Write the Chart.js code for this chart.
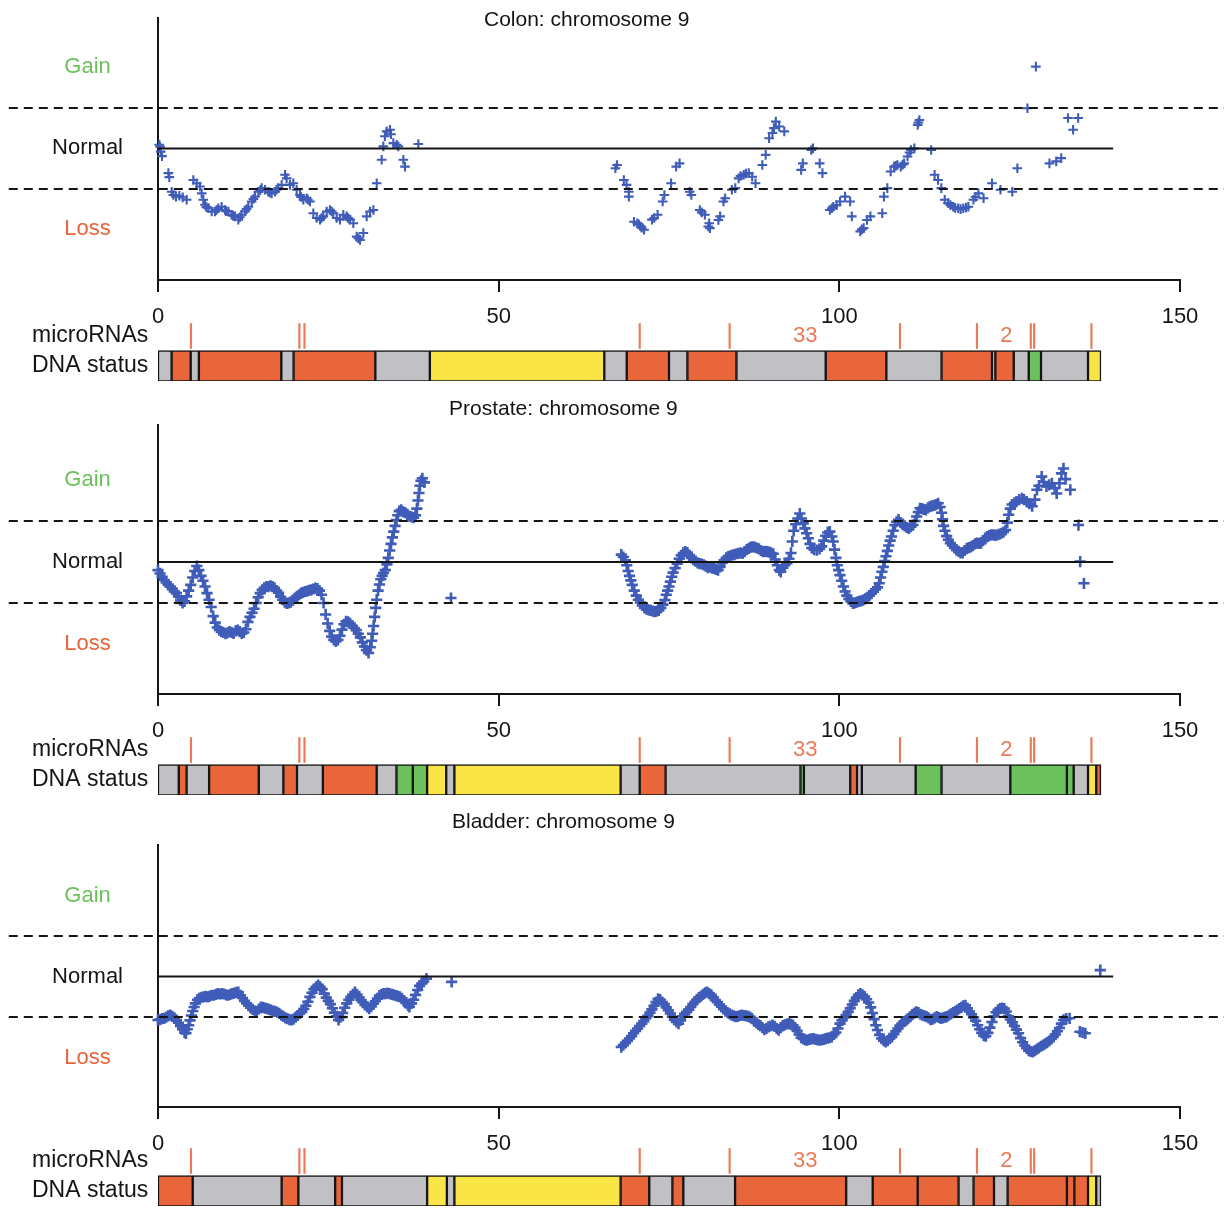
<!DOCTYPE html>
<html>
<head>
<meta charset="utf-8">
<script src="https://cdn.jsdelivr.net/npm/chart.js@4.4.1/dist/chart.umd.min.js"></script>
<style>
  html, body { margin: 0; padding: 0; background: #fff; }
  body { position: relative; width: 1224px; height: 1208px; overflow: hidden; font-family: "Liberation Sans", Arial, Helvetica, sans-serif; }
  .box { position: absolute; left: 0; width: 1224px; }
  .box canvas { display: block; }
  .ttl { position: absolute; font-size: 21px; line-height: 24px; color: #141414; white-space: nowrap; }
</style>
</head>
<body>
<div id="root"></div>
<div class="ttl" style="left:484px; top:7px;">Colon: chromosome 9</div>
<div class="ttl" style="left:449px; top:396px;">Prostate: chromosome 9</div>
<div class="ttl" style="left:452px; top:809px;">Bladder: chromosome 9</div>
<script>
// ---------------- DATA ----------------
const xTickStep = 50;
const xMin = 0, xMax = 150;
const yTickVals = [-2, 0, 2];
const yTickText = ['Loss', 'Normal', 'Gain'];
const rowLabels = ['microRNAs', 'DNA status'];
const gainThreshold = 1, lossThreshold = -1, normalLevel = 0;
const thresholdSpan = [-21.9, 156.5];
const normalSpan = [0, 140.2];

const miRNAPos = [4.84, 20.75, 21.5, 70.7, 83.9, 108.9, 120.2, 128.1, 128.6, 137.0];
const miRNALabelPos = [95.0, 124.5];
const miRNALabelText = ['33', '2'];

// DNA status segments: boundaries and status (N normal, L loss, G gain, U other)
const colonBounds = [0,2.0,4.8,6.0,18.1,19.9,31.9,39.9,65.5,68.8,75.0,77.7,84.9,98.0,106.9,115.0,122.4,122.9,125.6,127.8,129.6,136.5,138.4];
const colonStatus = ['N','L','N','L','N','L','N','U','N','L','N','L','N','L','N','L','N','L','N','G','N','U'];
const prostateBounds = [0,3.05,4.2,7.5,14.8,18.4,20.4,24.2,32.1,35.0,37.4,39.5,42.3,43.5,67.9,70.7,74.5,94.3,94.8,101.6,102.6,103.3,111.2,115.0,125.1,133.4,134.4,136.5,137.7,138.4];
const prostateStatus = ['N','L','N','L','N','L','N','L','N','G','G','U','N','U','N','L','N','G','N','L','N','N','G','N','G','G','N','U','L'];
const bladderBounds = [0,5.1,18.15,20.6,26.0,27.0,39.5,42.4,43.5,67.9,72.1,75.5,77.1,84.7,101.0,104.9,111.5,117.5,119.7,122.7,124.7,133.4,134.5,136.5,137.7,138.4];
const bladderStatus = ['L','N','L','N','L','N','U','N','U','L','N','L','N','L','N','L','L','N','L','N','L','L','L','U','N'];

// copy-number points [position (Mb), level]
const colonPoints = [
[0.20,0.09],[0.30,0.04],[0.39,-0.08],[0.59,-0.19],[1.52,-0.61],[1.66,-0.71],[2.01,-1.07],[2.25,-1.15],[2.64,-1.19],[3.13,-1.17],[3.62,-1.21],[4.21,-1.27],
[5.19,-0.78],[5.68,-0.86],[6.16,-0.94],[6.41,-1.11],[6.65,-1.27],[6.90,-1.39],[7.10,-1.45],[7.39,-1.48],[7.88,-1.56],[8.37,-1.56],[8.60,-1.52],[8.86,-1.48],[9.34,-1.44],[9.83,-1.52],[10.00,-1.55],[10.32,-1.56],[10.81,-1.64],[11.00,-1.66],[11.30,-1.68],[11.79,-1.76],[12.00,-1.70],[12.28,-1.64],[12.77,-1.56],[13.00,-1.50],[13.26,-1.44],[13.75,-1.31],[14.00,-1.25],[14.24,-1.19],[14.73,-1.07],[15.00,-1.03],[15.22,-0.98],[15.71,-1.02],[16.19,-1.07],[16.40,-1.09],[16.68,-1.11],[17.17,-1.07],[17.40,-1.02],[17.66,-0.98],[18.15,-0.90],[18.64,-0.65],[18.88,-0.74],[19.37,-0.90],[19.86,-0.86],[20.35,-1.02],[20.84,-1.15],[21.00,-1.20],[21.33,-1.27],[21.82,-1.23],[22.00,-1.27],[22.31,-1.31],[22.80,-1.60],[23.29,-1.72],[23.78,-1.76],[24.00,-1.72],[24.27,-1.68],[24.76,-1.56],[25.24,-1.52],[25.50,-1.56],[25.73,-1.60],[26.22,-1.72],[26.71,-1.76],[27.20,-1.64],[27.69,-1.68],[27.90,-1.72],[28.18,-1.76],[28.67,-1.85],[29.16,-2.18],[29.40,-2.22],[29.65,-2.26],[30.14,-2.09],[30.63,-1.68],[31.12,-1.56],[31.61,-1.52],[32.10,-0.86],[32.83,-0.28],[33.07,0.05],[33.30,0.30],[33.56,0.42],[34.05,0.46],[34.20,0.35],[34.54,0.13],[35.03,0.09],[35.27,0.05],[36.01,-0.28],[36.25,-0.45],[38.21,0.11],
[67.13,-0.49],[67.38,-0.41],[68.37,-0.78],[68.77,-0.90],[69.11,-1.07],[69.11,-1.19],[69.86,-1.81],[70.35,-1.85],[70.60,-1.88],[70.85,-1.93],[71.00,-1.96],[71.34,-2.01],[72.50,-1.76],[72.83,-1.72],[73.33,-1.64],[74.07,-1.31],[74.32,-1.15],[75.31,-0.86],[76.05,-0.45],[76.55,-0.37],[78.04,-1.07],[78.28,-1.15],[79.52,-1.52],[79.80,-1.58],[80.27,-1.64],[80.76,-1.93],[80.90,-1.85],[81.01,-1.97],[82.25,-1.77],[82.50,-1.68],[82.99,-1.31],[83.24,-1.23],[84.23,-1.02],[84.73,-0.98],[85.22,-0.74],[85.50,-0.68],[85.97,-0.65],[86.30,-0.62],[86.71,-0.61],[87.21,-0.70],[87.70,-0.86],[88.70,-0.41],[89.19,-0.16],[89.69,0.25],[90.18,0.38],[90.40,0.50],[90.68,0.66],[91.17,0.54],[91.92,0.42],[94.40,-0.53],[94.64,-0.37],[95.88,-0.04],[96.13,0.00],[97.12,-0.37],[97.52,-0.61],
[98.61,-1.52],[98.90,-1.48],[99.11,-1.44],[99.60,-1.40],[100.10,-1.31],[100.84,-1.19],[101.58,-1.31],[101.83,-1.68],[103.07,-2.05],[103.30,-2.00],[103.57,-1.97],[104.06,-1.77],[104.56,-1.68],[106.30,-1.60],[106.54,-1.19],[107.04,-0.98],[107.53,-0.57],[108.03,-0.45],[108.30,-0.43],[108.53,-0.41],[109.02,-0.45],[109.30,-0.40],[109.52,-0.37],[110.01,-0.20],[110.30,-0.10],[110.51,-0.04],[111.01,0.00],[111.50,0.58],[111.60,0.64],[111.75,0.70],[113.48,-0.04],[113.98,-0.65],[114.48,-0.78],[114.97,-0.98],[115.47,-1.27],[115.96,-1.35],[116.30,-1.40],[116.71,-1.44],[117.00,-1.47],[117.45,-1.48],[117.80,-1.50],[118.19,-1.48],[118.60,-1.46],[118.94,-1.44],[119.68,-1.27],[120.00,-1.20],[120.42,-1.11],[121.17,-1.23],[122.41,-0.86],[123.65,-1.02],[125.38,-1.07],[126.13,-0.49],[127.61,0.99],[128.85,2.02],[130.84,-0.37],[131.83,-0.32],[132.57,-0.24],[133.56,0.75],[134.31,0.46],[135.05,0.75]
];

const prostatePoints = [
[0.0,-0.20],[0.3,-0.28],[0.6,-0.36],[0.9,-0.44],[1.2,-0.50],[1.5,-0.56],[1.8,-0.60],[2.1,-0.66],[2.4,-0.72],[2.7,-0.76],[3.0,-0.84],[3.3,-0.94],[3.6,-1.00],[3.9,-0.96],[4.2,-0.84],[4.5,-0.70],[4.8,-0.56],[5.1,-0.38],[5.4,-0.22],[5.7,-0.10],[6.0,-0.20],[6.3,-0.34],[6.6,-0.46],[6.9,-0.60],[7.2,-0.76],[7.5,-0.92],[7.8,-1.10],[8.1,-1.32],[8.4,-1.48],[8.7,-1.60],[9.0,-1.66],[9.3,-1.70],[9.6,-1.72],[9.9,-1.75],[10.2,-1.73],[10.5,-1.70],[10.8,-1.72],[11.1,-1.74],[11.4,-1.68],[11.7,-1.66],[12.0,-1.70],[12.3,-1.74],[12.6,-1.72],[12.9,-1.64],[13.2,-1.46],[13.5,-1.34],[13.8,-1.24],[14.1,-1.14],[14.4,-1.00],[14.7,-0.86],[15.0,-0.76],[15.3,-0.68],[15.6,-0.63],[15.9,-0.60],[16.2,-0.60],[16.5,-0.58],[16.8,-0.60],[17.1,-0.63],[17.4,-0.70],[17.7,-0.75],[18.0,-0.85],[18.3,-0.92],[18.6,-0.98],[18.9,-1.01],[19.2,-1.00],[19.5,-0.98],[19.8,-0.93],[20.1,-0.88],[20.4,-0.84],[20.7,-0.80],[21.0,-0.76],[21.3,-0.74],[21.6,-0.72],[21.9,-0.71],[22.2,-0.69],[22.5,-0.68],[22.8,-0.66],[23.1,-0.64],[23.4,-0.65],[23.7,-0.70],[24.0,-0.80],[24.3,-1.00],[24.6,-1.28],[24.9,-1.50],[25.2,-1.68],[25.5,-1.82],[25.8,-1.90],[26.1,-1.94],[26.4,-1.90],[26.7,-1.80],[27.0,-1.65],[27.3,-1.52],[27.6,-1.45],[27.9,-1.46],[28.2,-1.50],[28.5,-1.56],[28.8,-1.61],[29.1,-1.66],[29.4,-1.75],[29.7,-1.84],[30.0,-1.96],[30.3,-2.06],[30.6,-2.15],[30.9,-2.22],[31.15,-2.08],[31.35,-1.92],[31.5,-1.75],[31.65,-1.56],[31.8,-1.34],[31.95,-1.12],[32.1,-0.92],[32.3,-0.70],[32.5,-0.55],[32.7,-0.42],[32.9,-0.34],[33.1,-0.27],[33.35,-0.20],[33.6,-0.06],[33.8,0.10],[34.0,0.28],[34.2,0.44],[34.4,0.60],[34.6,0.74],[34.8,0.88],[35.0,1.02],[35.2,1.14],[35.4,1.24],[35.7,1.27],[36.0,1.22],[36.3,1.20],[36.6,1.16],[36.9,1.12],[37.2,1.10],[37.5,1.08],[37.8,1.14],[38.0,1.30],[38.15,1.50],[38.3,1.68],[38.45,1.86],[38.6,1.98],[38.8,2.04],[39.1,1.94],
[43.0,-0.88],
[68.0,0.18],[68.3,0.12],[68.6,0.04],[68.8,-0.08],[69.0,-0.22],[69.2,-0.34],[69.4,-0.45],[69.6,-0.56],[69.9,-0.70],[70.2,-0.82],[70.5,-0.92],[70.8,-0.99],[71.1,-1.06],[71.4,-1.12],[71.7,-1.15],[72.0,-1.17],[72.3,-1.18],[72.6,-1.20],[72.9,-1.21],[73.2,-1.20],[73.5,-1.18],[73.8,-1.12],[74.1,-1.04],[74.4,-0.93],[74.6,-0.80],[74.8,-0.70],[75.0,-0.60],[75.2,-0.48],[75.4,-0.36],[75.6,-0.26],[75.9,-0.15],[76.2,-0.04],[76.5,0.08],[76.8,0.16],[77.1,0.22],[77.4,0.25],[77.7,0.23],[78.0,0.17],[78.3,0.10],[78.6,0.05],[78.9,0.02],[79.2,-0.02],[79.5,-0.04],[79.8,-0.05],[80.1,-0.07],[80.4,-0.10],[80.7,-0.14],[81.0,-0.12],[81.3,-0.15],[81.6,-0.16],[81.9,-0.18],[82.2,-0.20],[82.5,-0.12],[82.8,-0.02],[83.1,0.04],[83.4,0.10],[83.7,0.13],[84.0,0.15],[84.3,0.17],[84.6,0.18],[84.9,0.20],[85.2,0.21],[85.5,0.22],[85.8,0.21],[86.1,0.25],[86.4,0.30],[86.7,0.33],[87.0,0.36],[87.3,0.37],[87.6,0.36],[87.9,0.34],[88.2,0.32],[88.5,0.28],[88.8,0.25],[89.1,0.26],[89.4,0.25],[89.7,0.24],[90.0,0.22],[90.3,0.20],[90.6,0.06],[90.9,-0.08],[91.2,-0.20],[91.4,-0.24],[91.7,-0.14],[92.0,-0.08],[92.3,-0.03],[92.6,0.08],[92.9,0.22],[93.1,0.50],[93.3,0.76],[93.6,0.92],[93.9,1.06],[94.2,1.18],[94.45,1.06],[94.7,0.94],[94.95,0.82],[95.2,0.70],[95.45,0.58],[95.7,0.44],[95.95,0.34],[96.3,0.30],[96.7,0.29],[97.1,0.32],[97.4,0.38],[97.7,0.52],[98.0,0.64],[98.3,0.72],[98.6,0.74],[98.9,0.62],[99.1,0.50],[99.3,0.30],[99.5,0.10],[99.7,-0.08],[99.9,-0.20],[100.1,-0.32],[100.35,-0.46],[100.6,-0.60],[100.85,-0.72],[101.1,-0.82],[101.4,-0.90],[101.7,-0.96],[102.0,-1.01],[102.3,-1.00],[102.6,-0.98],[102.9,-0.96],[103.2,-0.95],[103.5,-0.93],[103.8,-0.90],[104.1,-0.86],[104.4,-0.82],[104.7,-0.77],[105.0,-0.72],[105.3,-0.67],[105.6,-0.62],[105.85,-0.52],[106.05,-0.38],[106.25,-0.24],[106.45,-0.12],[106.65,0.02],[106.85,0.14],[107.05,0.27],[107.25,0.40],[107.45,0.52],[107.65,0.62],[107.9,0.76],[108.15,0.90],[108.4,0.98],[108.7,1.03],[109.0,0.96],[109.3,0.91],[109.6,0.88],[109.9,0.84],[110.2,0.82],[110.5,0.86],[110.8,0.90],[111.1,1.00],[111.35,1.11],[111.6,1.22],[111.85,1.31],[112.1,1.30],[112.4,1.28],[112.7,1.27],[113.0,1.32],[113.3,1.35],[113.6,1.37],[113.9,1.38],[114.2,1.40],[114.5,1.43],[114.8,1.34],[115.0,1.20],[115.15,1.04],[115.3,0.88],[115.5,0.76],[115.75,0.63],[116.0,0.54],[116.3,0.46],[116.6,0.40],[116.9,0.34],[117.2,0.29],[117.5,0.26],[117.8,0.22],[118.1,0.22],[118.4,0.28],[118.7,0.33],[119.0,0.35],[119.3,0.37],[119.6,0.40],[119.9,0.44],[120.2,0.46],[120.5,0.45],[120.8,0.46],[121.1,0.52],[121.4,0.58],[121.7,0.62],[122.0,0.64],[122.3,0.66],[122.6,0.66],[122.9,0.65],[123.2,0.66],[123.5,0.68],[123.8,0.70],[124.1,0.73],[124.4,0.78],[124.65,0.96],[124.85,1.15],[125.1,1.30],[125.35,1.40],[125.7,1.44],[126.0,1.47],[126.4,1.52],[126.8,1.55],[127.1,1.52],[127.5,1.47],[127.9,1.42],[128.3,1.36],[128.7,1.52],[129.0,1.76],[129.3,1.86],[129.7,2.08],[130.0,1.95],[130.4,1.84],[130.8,1.88],[131.2,1.92],[131.6,1.80],[131.9,1.67],[132.3,1.92],[132.6,2.16],[132.9,2.28],[133.2,2.02],[133.9,1.76],[135.1,0.90],[135.35,0.01],[135.9,-0.52]
];

const bladderPoints = [
[0.0,-1.07],[0.3,-1.06],[0.6,-1.04],[0.9,-1.03],[1.2,-1.00],[1.5,-0.97],[1.8,-0.95],[2.1,-0.98],[2.4,-1.02],[2.7,-1.07],[3.0,-1.14],[3.3,-1.22],[3.6,-1.30],[3.9,-1.38],[4.1,-1.40],[4.3,-1.30],[4.5,-1.20],[4.7,-1.08],[4.9,-0.96],[5.1,-0.85],[5.3,-0.75],[5.5,-0.66],[5.8,-0.57],[6.1,-0.53],[6.4,-0.51],[6.7,-0.50],[7.0,-0.49],[7.3,-0.50],[7.6,-0.48],[7.9,-0.46],[8.2,-0.46],[8.5,-0.44],[8.8,-0.42],[9.1,-0.43],[9.4,-0.42],[9.7,-0.43],[10.0,-0.45],[10.3,-0.46],[10.6,-0.44],[10.9,-0.42],[11.2,-0.41],[11.5,-0.39],[11.8,-0.38],[12.1,-0.46],[12.4,-0.53],[12.7,-0.60],[13.0,-0.66],[13.3,-0.72],[13.6,-0.77],[13.9,-0.81],[14.2,-0.85],[14.5,-0.87],[14.8,-0.80],[15.1,-0.75],[15.4,-0.76],[15.7,-0.78],[16.0,-0.79],[16.3,-0.81],[16.6,-0.83],[16.9,-0.85],[17.2,-0.86],[17.5,-0.88],[17.8,-0.91],[18.1,-0.95],[18.4,-0.98],[18.7,-1.02],[19.0,-1.04],[19.3,-1.06],[19.6,-1.07],[19.9,-1.05],[20.2,-1.00],[20.5,-0.96],[20.8,-0.91],[21.1,-0.87],[21.4,-0.80],[21.7,-0.72],[22.0,-0.62],[22.3,-0.50],[22.6,-0.40],[22.9,-0.31],[23.2,-0.25],[23.5,-0.21],[23.8,-0.25],[24.1,-0.31],[24.4,-0.42],[24.7,-0.52],[25.0,-0.60],[25.3,-0.68],[25.6,-0.78],[25.9,-0.89],[26.2,-0.98],[26.5,-1.07],[26.8,-1.00],[27.1,-0.90],[27.4,-0.77],[27.7,-0.66],[28.0,-0.57],[28.3,-0.50],[28.6,-0.44],[28.9,-0.38],[29.2,-0.44],[29.5,-0.51],[29.8,-0.58],[30.1,-0.64],[30.4,-0.70],[30.7,-0.75],[31.0,-0.79],[31.3,-0.74],[31.6,-0.67],[31.9,-0.61],[32.2,-0.54],[32.5,-0.47],[32.8,-0.44],[33.1,-0.42],[33.4,-0.42],[33.7,-0.41],[34.0,-0.42],[34.3,-0.44],[34.6,-0.45],[34.9,-0.47],[35.2,-0.48],[35.5,-0.50],[35.8,-0.54],[36.1,-0.59],[36.4,-0.65],[36.7,-0.71],[36.9,-0.75],[37.2,-0.66],[37.5,-0.57],[37.8,-0.45],[38.1,-0.33],[38.4,-0.23],[38.7,-0.17],[39.0,-0.12],[39.4,-0.05],
[43.1,-0.13],
[68.0,-1.74],[68.3,-1.69],[68.6,-1.64],[68.9,-1.59],[69.2,-1.53],[69.5,-1.47],[69.8,-1.40],[70.1,-1.34],[70.4,-1.28],[70.7,-1.22],[71.0,-1.16],[71.3,-1.10],[71.6,-1.03],[71.9,-0.97],[72.2,-0.89],[72.5,-0.81],[72.8,-0.72],[73.1,-0.63],[73.4,-0.55],[73.7,-0.57],[74.0,-0.63],[74.3,-0.68],[74.6,-0.76],[74.9,-0.83],[75.2,-0.91],[75.5,-0.99],[75.8,-1.07],[76.1,-1.12],[76.4,-1.16],[76.7,-1.08],[77.0,-0.98],[77.3,-0.92],[77.6,-0.87],[77.9,-0.82],[78.2,-0.75],[78.5,-0.68],[78.8,-0.62],[79.1,-0.57],[79.4,-0.52],[79.7,-0.48],[80.0,-0.44],[80.3,-0.40],[80.6,-0.38],[80.9,-0.42],[81.2,-0.45],[81.5,-0.51],[81.8,-0.58],[82.1,-0.63],[82.4,-0.69],[82.7,-0.74],[83.0,-0.80],[83.3,-0.85],[83.6,-0.89],[83.9,-0.92],[84.2,-0.95],[84.5,-0.97],[84.8,-0.99],[85.1,-0.98],[85.4,-0.96],[85.7,-0.95],[86.0,-0.96],[86.3,-0.97],[86.6,-0.98],[86.9,-1.00],[87.2,-1.04],[87.5,-1.10],[87.8,-1.14],[88.1,-1.18],[88.4,-1.21],[88.7,-1.26],[89.0,-1.31],[89.3,-1.28],[89.6,-1.24],[89.9,-1.22],[90.2,-1.20],[90.5,-1.23],[90.8,-1.28],[91.1,-1.32],[91.4,-1.26],[91.7,-1.21],[92.0,-1.19],[92.3,-1.17],[92.6,-1.16],[92.9,-1.18],[93.2,-1.20],[93.5,-1.26],[93.8,-1.34],[94.1,-1.43],[94.4,-1.51],[94.7,-1.54],[95.0,-1.56],[95.3,-1.57],[95.6,-1.55],[95.9,-1.54],[96.2,-1.53],[96.5,-1.55],[96.8,-1.56],[97.1,-1.57],[97.4,-1.56],[97.7,-1.55],[98.0,-1.53],[98.3,-1.52],[98.6,-1.51],[98.9,-1.49],[99.2,-1.43],[99.5,-1.38],[99.8,-1.28],[100.1,-1.16],[100.4,-1.08],[100.7,-1.01],[101.0,-0.95],[101.3,-0.87],[101.6,-0.78],[101.9,-0.69],[102.2,-0.60],[102.5,-0.52],[102.8,-0.45],[103.1,-0.42],[103.4,-0.45],[103.7,-0.49],[104.0,-0.56],[104.3,-0.64],[104.6,-0.76],[104.85,-0.90],[105.1,-1.05],[105.35,-1.20],[105.6,-1.32],[105.9,-1.44],[106.2,-1.53],[106.5,-1.58],[106.8,-1.61],[107.1,-1.58],[107.4,-1.53],[107.7,-1.49],[108.0,-1.42],[108.3,-1.35],[108.6,-1.28],[108.9,-1.21],[109.2,-1.16],[109.5,-1.11],[109.8,-1.08],[110.1,-1.04],[110.4,-0.99],[110.7,-0.94],[111.0,-0.90],[111.3,-0.87],[111.6,-0.89],[111.9,-0.93],[112.2,-0.95],[112.5,-0.97],[112.8,-0.99],[113.1,-1.02],[113.4,-1.06],[113.7,-1.05],[114.0,-1.02],[114.3,-0.99],[114.6,-1.01],[114.9,-1.03],[115.2,-1.02],[115.5,-1.00],[115.8,-0.99],[116.1,-0.95],[116.4,-0.92],[116.7,-0.89],[117.0,-0.86],[117.3,-0.83],[117.6,-0.79],[117.9,-0.76],[118.2,-0.72],[118.5,-0.71],[118.8,-0.78],[119.1,-0.86],[119.4,-0.93],[119.7,-1.01],[120.0,-1.09],[120.3,-1.20],[120.6,-1.30],[120.9,-1.39],[121.2,-1.46],[121.5,-1.47],[121.8,-1.39],[122.1,-1.26],[122.4,-1.12],[122.7,-0.98],[123.0,-0.88],[123.3,-0.82],[123.6,-0.79],[123.9,-0.78],[124.2,-0.79],[124.5,-0.86],[124.8,-0.98],[125.1,-1.06],[125.4,-1.13],[125.7,-1.22],[126.0,-1.31],[126.3,-1.40],[126.6,-1.52],[126.9,-1.62],[127.2,-1.70],[127.5,-1.77],[127.8,-1.83],[128.1,-1.85],[128.4,-1.86],[128.7,-1.83],[129.0,-1.79],[129.3,-1.76],[129.6,-1.72],[129.9,-1.69],[130.2,-1.66],[130.5,-1.63],[130.8,-1.59],[131.1,-1.54],[131.4,-1.49],[131.7,-1.43],[132.0,-1.35],[132.3,-1.27],[132.6,-1.16],[132.9,-1.07],[133.3,-1.04],[133.8,-1.03],[135.3,-1.36],[135.7,-1.38],[136.1,-1.40],
[138.3,0.16]
];

// ---------------- STYLE / LAYOUT ----------------
const FONT = '"Liberation Sans", Arial, Helvetica, sans-serif';
const INK = '#151515';
const BLUE = '#3f5cb8';
const ORANGE = '#e8643a';
const MIR_ORANGE = '#ea7a55';
const GREEN_TXT = '#6cc15a';
const statusColor = { N: '#c1c1c5', L: '#e9653a', G: '#6cc15c', U: '#f9e546' };
const yTickColor = [ORANGE, INK, GREEN_TXT];

const panels = [
  { points: colonPoints, bounds: colonBounds, status: colonStatus },
  { points: prostatePoints, bounds: prostateBounds, status: prostateStatus },
  { points: bladderPoints, bounds: bladderBounds, status: bladderStatus }
];
// scatter area top = scTop + 10 ; bottom = scTop + scH - 50
// strip area = stTop + 20 .. stTop + 20 + 60
const layoutCfg = [
  { scTop: 8,   scH: 322, yMin: -3.25, yMax: 3.22, stTop: 300.5, markR: 4.8, markW: 2.1 },
  { scTop: 415, scH: 329, yMin: -3.22, yMax: 3.34, stTop: 715,   markR: 5.6, markW: 2.6 },
  { scTop: 835, scH: 322, yMin: -3.22, yMax: 3.25, stTop: 1126,  markR: 5.6, markW: 2.6 }
];

const root = document.getElementById('root');
function makeCanvas(top, h) {
  const d = document.createElement('div');
  d.className = 'box';
  d.style.top = top + 'px';
  d.style.height = h + 'px';
  const c = document.createElement('canvas');
  c.width = 1224; c.height = h;
  d.appendChild(c);
  root.appendChild(d);
  return c;
}

const miTextPlugin = {
  id: 'miText',
  afterDatasetsDraw(chart) {
    const { ctx, scales } = chart;
    ctx.save();
    ctx.font = '22px ' + FONT;
    ctx.fillStyle = MIR_ORANGE;
    ctx.textAlign = 'center';
    ctx.textBaseline = 'middle';
    miRNALabelPos.forEach((v, i) => {
      ctx.fillText(miRNALabelText[i], scales.x.getPixelForValue(v), scales.y.getPixelForValue(0));
    });
    ctx.restore();
  }
};

function noPad(s) { s.paddingTop = 0; s.paddingBottom = 0; }

panels.forEach((p, i) => {
  const L = layoutCfg[i];
  // ---- scatter panel ----
  const sc = makeCanvas(L.scTop, L.scH);
  const refLine = (yv, span) => span.map(xv => ({ x: xv, y: yv }));
  new Chart(sc, {
    type: 'scatter',
    data: {
      datasets: [
        { type: 'line', data: refLine(normalLevel, normalSpan), borderColor: INK, borderWidth: 2, pointRadius: 0, clip: false, order: 0 },
        { type: 'line', data: refLine(gainThreshold, thresholdSpan), borderColor: INK, borderWidth: 2, borderDash: [9, 6], pointRadius: 0, clip: false, order: 0 },
        { type: 'line', data: refLine(lossThreshold, thresholdSpan), borderColor: INK, borderWidth: 2, borderDash: [9, 6], pointRadius: 0, clip: false, order: 0 },
        { data: p.points.map(q => ({ x: q[0], y: q[1] })), pointStyle: 'cross', pointRadius: L.markR,
          pointBorderWidth: L.markW, pointBorderColor: BLUE, pointBackgroundColor: BLUE, clip: false, order: 1 }
      ]
    },
    options: {
      responsive: false, animation: false, events: [],
      layout: { padding: { top: 10, right: 44, left: 0, bottom: 0 }, autoPadding: false },
      plugins: { legend: { display: false }, tooltip: { enabled: false } },
      scales: {
        x: {
          type: 'linear', min: xMin, max: xMax,
          afterFit: s => { s.height = 50; },
          ticks: { stepSize: xTickStep, font: { size: 22, family: FONT }, color: INK, padding: 12, maxRotation: 0 },
          grid: { display: true, drawOnChartArea: false, drawTicks: true, tickLength: 12, color: INK, lineWidth: 2 },
          border: { display: true, color: INK, width: 2 }
        },
        y: {
          type: 'linear', min: L.yMin, max: L.yMax,
          afterFit: s => { s.width = 158; noPad(s); },
          afterBuildTicks: s => { s.ticks = yTickVals.map(v => ({ value: v })); },
          ticks: {
            callback: v => yTickText[yTickVals.indexOf(v)],
            color: c => yTickColor[c.index],
            crossAlign: 'center', padding: 0, autoSkip: false,
            font: { size: 22, family: FONT }
          },
          grid: { display: false, drawTicks: true, tickLength: 35 },
          border: { display: true, color: INK, width: 2 }
        }
      }
    }
  });

  // ---- microRNA + DNA status strip ----
  const st = makeCanvas(L.stTop, 100);
  const segs = [], segCols = [];
  for (let k = 0; k < p.status.length; k++) {
    segs.push({ x: [p.bounds[k], p.bounds[k + 1]], y: rowLabels[1] });
    segCols.push(statusColor[p.status[k]]);
  }
  const mirs = miRNAPos.map(v => ({ x: [v - 0.11, v + 0.11], y: rowLabels[0] }));
  new Chart(st, {
    type: 'bar',
    data: {
      labels: rowLabels,
      datasets: [
        { data: segs, backgroundColor: segCols, borderColor: INK, borderWidth: 1.5, borderSkipped: false, barThickness: 31, grouped: false },
        { data: mirs, backgroundColor: MIR_ORANGE, borderWidth: 0, barThickness: 25, grouped: false }
      ]
    },
    options: {
      indexAxis: 'y', responsive: false, animation: false, events: [],
      layout: { padding: { top: 20, bottom: 20, left: 32, right: 44 }, autoPadding: false },
      plugins: { legend: { display: false }, tooltip: { enabled: false } },
      scales: {
        x: { type: 'linear', min: xMin, max: xMax, display: false },
        y: {
          type: 'category',
          afterFit: s => { s.width = 126; noPad(s); },
          ticks: { crossAlign: 'far', padding: 0, autoSkip: false, font: { size: 23, family: FONT }, color: INK },
          grid: { display: false },
          border: { display: false }
        }
      }
    },
    plugins: [miTextPlugin]
  });
});
</script>
</body>
</html>
